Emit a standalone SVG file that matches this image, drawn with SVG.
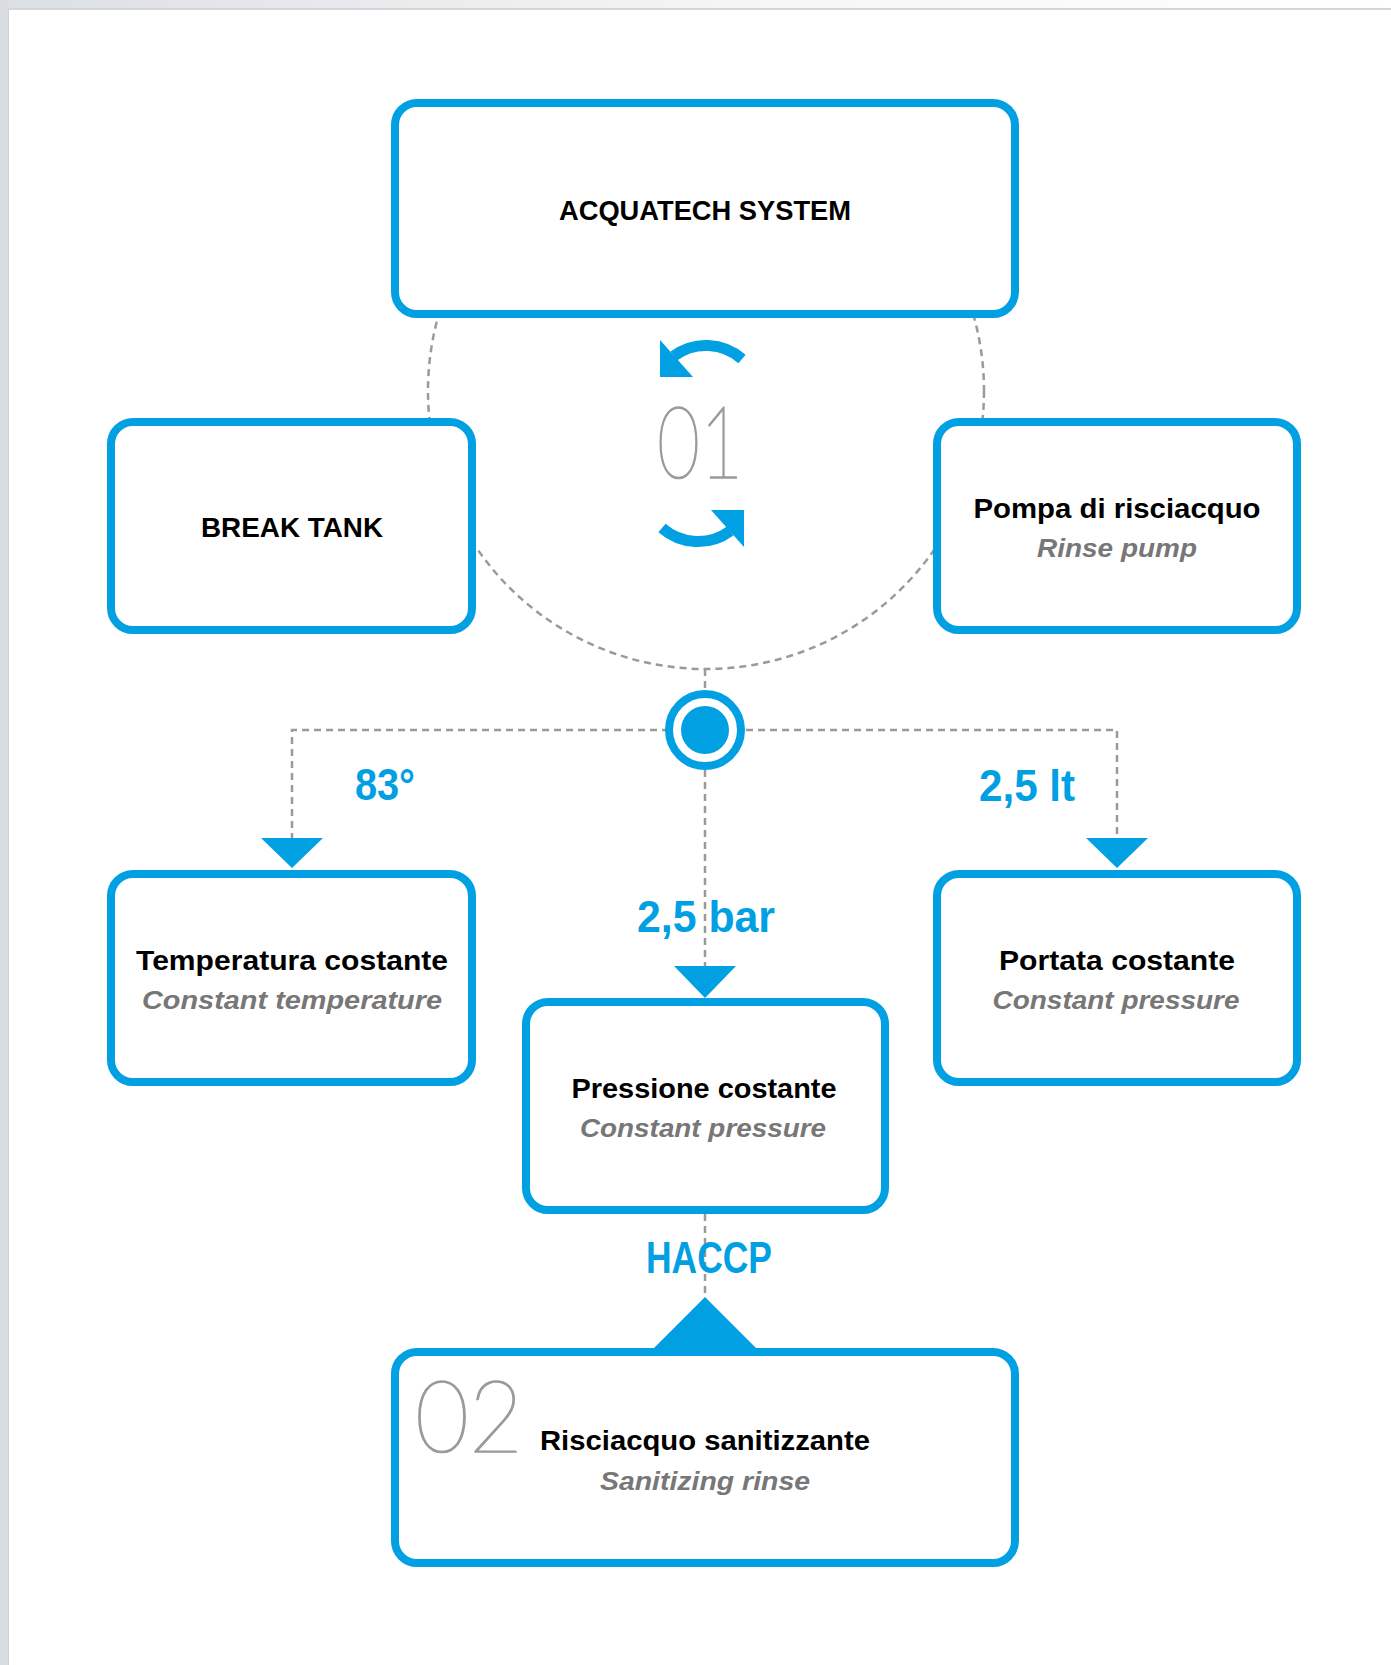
<svg xmlns="http://www.w3.org/2000/svg" width="1391" height="1665" viewBox="0 0 1391 1665">
<style>
.box{fill:#fff;stroke:#00a0e3;stroke-width:8}
.dash{fill:none;stroke:#9a9a9a;stroke-width:2.5;stroke-dasharray:7 5}
.blue{fill:#00a0e3}
.t{font-family:"Liberation Sans",Arial,sans-serif;font-weight:bold;font-size:28px;fill:#000;text-anchor:middle}
.i{font-family:"Liberation Sans",Arial,sans-serif;font-weight:bold;font-style:italic;font-size:25px;fill:#777;text-anchor:middle}
.lab{font-family:"Liberation Sans",Arial,sans-serif;font-weight:bold;font-size:45px;fill:#00a0e3}
.num{font-family:Lato,Roboto,Inter,sans-serif;font-weight:100;font-size:100px;fill:#9a9a9a;stroke:#9a9a9a;stroke-width:1.7}
</style>
<defs>
<linearGradient id="topg" x1="0" y1="0" x2="1" y2="0">
<stop offset="0" stop-color="#dcdfe3"/>
<stop offset="0.55" stop-color="#f6f6f7"/>
<stop offset="1" stop-color="#ffffff"/>
</linearGradient>
</defs>
<g id="background">
<rect x="0" y="0" width="1391" height="1665" fill="#fff"/>
<rect x="0" y="0" width="1391" height="8" fill="url(#topg)"/>
<rect x="0" y="8" width="1391" height="2" fill="#d6d6d6"/>
<rect x="0" y="0" width="8" height="1665" fill="#d8dbdf"/>
<rect x="8" y="9" width="1" height="1656" fill="#cfd2d5"/>
</g>
<g id="connectors">
<circle class="dash" cx="706" cy="391" r="278"/>
<path class="dash" d="M705,669 V692"/>
<path class="dash" d="M292,840 V730 H1117 V840"/>
<path class="dash" d="M705,770 V968"/>
<path class="dash" d="M705,1214 V1300"/>
<polygon class="blue" points="261,838 323,838 292,868"/>
<polygon class="blue" points="1086,838 1148,838 1117,868"/>
<polygon class="blue" points="674,966 736,966 705,998"/>
<polygon class="blue" points="650,1352 760,1352 705,1297"/>
</g>
<g id="node-acquatech">
<rect class="box" x="395" y="103" width="620" height="211" rx="22"/>
<text class="t" x="705" y="220" textLength="292" lengthAdjust="spacingAndGlyphs">ACQUATECH SYSTEM</text>
</g>
<g id="cycle-01">
<path d="M742,359 A54.5,54.5 0 0 0 673.8,356" fill="none" stroke="#00a0e3" stroke-width="11"/>
<polygon class="blue" points="660,340 660,377 693,377"/>
<g transform="rotate(180 702 443.5)">
<path d="M742,359 A54.5,54.5 0 0 0 673.8,356" fill="none" stroke="#00a0e3" stroke-width="11"/>
<polygon class="blue" points="660,340 660,377 693,377"/>
</g>
<text class="num" x="657" y="478" textLength="86" lengthAdjust="spacingAndGlyphs">01</text>
</g>
<g id="node-break-tank">
<rect class="box" x="111" y="422" width="361" height="208" rx="22"/>
<text class="t" x="292" y="537" textLength="182" lengthAdjust="spacingAndGlyphs">BREAK TANK</text>
</g>
<g id="node-pompa">
<rect class="box" x="937" y="422" width="360" height="208" rx="22"/>
<text class="t" x="1117" y="518" textLength="287" lengthAdjust="spacingAndGlyphs">Pompa di risciacquo</text>
<text class="i" x="1117" y="557" textLength="160" lengthAdjust="spacingAndGlyphs">Rinse pump</text>
</g>
<g id="junction">
<circle cx="705" cy="730" r="36" fill="#fff" stroke="#00a0e3" stroke-width="8"/>
<circle cx="705" cy="730" r="24" fill="#00a0e3"/>
</g>
<g id="labels">
<text class="lab" x="355" y="800" textLength="60" lengthAdjust="spacingAndGlyphs">83°</text>
<text class="lab" x="979" y="801" textLength="96" lengthAdjust="spacingAndGlyphs">2,5 lt</text>
<text class="lab" x="637" y="932" textLength="138" lengthAdjust="spacingAndGlyphs">2,5 bar</text>
<text class="lab" x="646" y="1273" font-size="43" textLength="126" lengthAdjust="spacingAndGlyphs">HACCP</text>
</g>
<g id="node-temperatura">
<rect class="box" x="111" y="874" width="361" height="208" rx="22"/>
<text class="t" x="292" y="970" textLength="312" lengthAdjust="spacingAndGlyphs">Temperatura costante</text>
<text class="i" x="292" y="1009" textLength="300" lengthAdjust="spacingAndGlyphs">Constant temperature</text>
</g>
<g id="node-portata">
<rect class="box" x="937" y="874" width="360" height="208" rx="22"/>
<text class="t" x="1117" y="970" textLength="236" lengthAdjust="spacingAndGlyphs">Portata costante</text>
<text class="i" x="1116" y="1009" textLength="247" lengthAdjust="spacingAndGlyphs">Constant pressure</text>
</g>
<g id="node-pressione">
<rect class="box" x="526" y="1002" width="359" height="208" rx="22"/>
<text class="t" x="704" y="1098" textLength="265" lengthAdjust="spacingAndGlyphs">Pressione costante</text>
<text class="i" x="703" y="1137" textLength="246" lengthAdjust="spacingAndGlyphs">Constant pressure</text>
</g>
<g id="node-risciacquo">
<rect class="box" x="395" y="1352" width="620" height="211" rx="22"/>
<text class="num" x="415" y="1452" textLength="108" lengthAdjust="spacingAndGlyphs">02</text>
<text class="t" x="540" y="1450" text-anchor="start" style="text-anchor:start" textLength="330" lengthAdjust="spacingAndGlyphs">Risciacquo sanitizzante</text>
<text class="i" x="705" y="1490" textLength="210" lengthAdjust="spacingAndGlyphs">Sanitizing rinse</text>
</g>
</svg>
